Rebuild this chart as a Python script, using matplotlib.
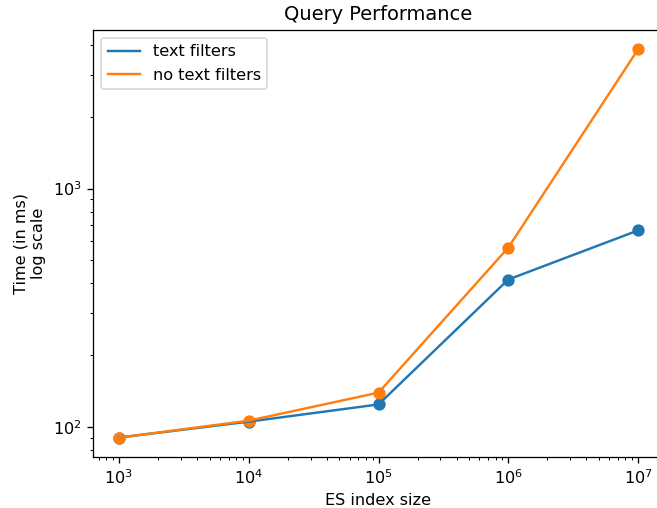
import matplotlib
matplotlib.use("Agg")
import matplotlib.pyplot as plt

index_sizes = [1e3, 1e4, 1e5, 1e6, 1e7]
text_filters_ms = [90, 105, 124, 415, 667]
no_text_filters_ms = [90, 106, 139, 565, 3840]

DPI = 116
fig = plt.figure(figsize=(657 / DPI, 508 / DPI), dpi=DPI)
# right spine falls just outside the saved image in the reference
ax = fig.add_axes([93 / 657, 51 / 508, 571 / 657, 427 / 508])

ax.plot(index_sizes, text_filters_ms, label="text filters")
ax.plot(index_sizes, no_text_filters_ms, label="no text filters")
ax.scatter(index_sizes, text_filters_ms, s=44)
ax.scatter(index_sizes, no_text_filters_ms, s=44)

ax.set_xscale("log")
ax.set_yscale("log")
ax.set_title("Query Performance")
ax.set_xlabel("ES index size")
ax.set_ylabel("Time (in ms)\nlog scale")
ax.legend(loc="upper left")

fig.savefig("out.png", dpi=DPI)
